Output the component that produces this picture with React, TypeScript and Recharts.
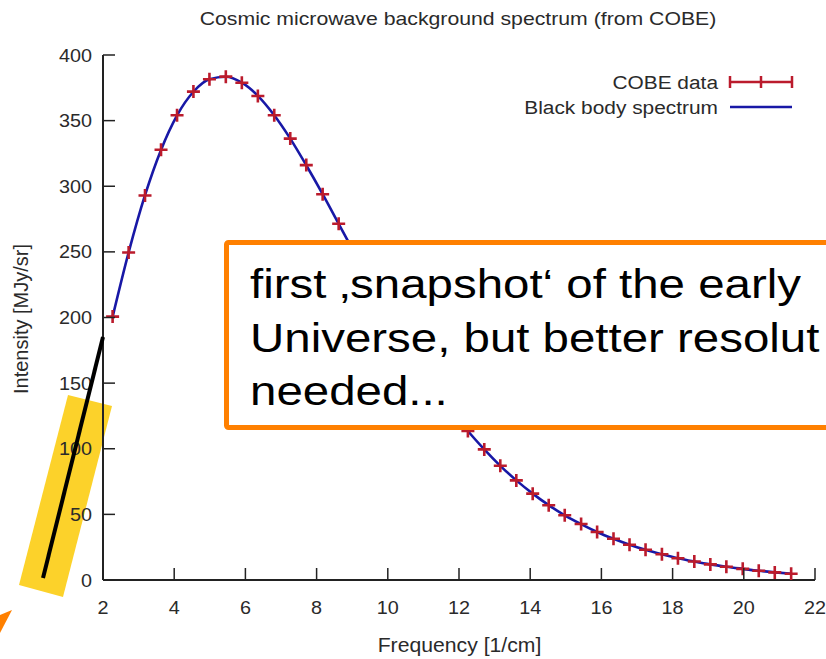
import React from 'react';
import { ComposedChart, XAxis, YAxis, Scatter, Line, Legend } from 'recharts';

const frequency = [2.27, 2.72, 3.18, 3.63, 4.08, 4.54, 4.99, 5.45, 5.9, 6.35, 6.81, 7.26, 7.71, 8.17, 8.62, 9.08, 9.53, 9.98, 10.44, 10.89, 11.34, 11.8, 12.25, 12.71, 13.16, 13.61, 14.07, 14.52, 14.97, 15.43, 15.88, 16.34, 16.79, 17.24, 17.7, 18.15, 18.61, 19.06, 19.51, 19.97, 20.42, 20.87, 21.33];
const cobeIntensity = [200.7, 249.5, 293.0, 327.8, 354.1, 372.1, 381.5, 383.5, 378.9, 368.8, 354.1, 336.3, 316.1, 293.9, 271.4, 248.2, 225.9, 204.3, 183.3, 163.8, 145.8, 128.8, 113.6, 99.5, 87.0, 75.9, 65.8, 57.0, 49.3, 42.7, 36.6, 31.4, 26.9, 23.0, 19.6, 16.6, 14.1, 11.9, 10.1, 8.5, 7.0, 5.8, 4.8];
const blackBodyIntensity = [200.5, 249.6, 293.2, 327.7, 354.0, 372.0, 381.5, 383.4, 378.9, 368.9, 354.1, 336.3, 316.0, 294.0, 271.4, 248.3, 225.9, 204.3, 183.3, 163.8, 145.7, 128.9, 113.5, 99.5, 87.0, 75.9, 65.8, 57.0, 49.3, 42.6, 36.6, 31.4, 26.9, 23.0, 19.6, 16.6, 14.1, 11.9, 10.1, 8.5, 7.0, 5.8, 4.8];
const xTicks = [2, 4, 6, 8, 10, 12, 14, 16, 18, 20, 22];
const yTicks = [0, 50, 100, 150, 200, 250, 300, 350, 400];
const chartTitle = 'Cosmic microwave background spectrum (from COBE)';
const xAxisTitle = 'Frequency [1/cm]';
const yAxisTitle = 'Intensity [MJy/sr]';
const seriesNames = ['COBE data', 'Black body spectrum'];
const noteLines = ['first \u201Asnapshot\u2018 of the early', 'Universe, but better resolut', 'needed...'];

const data = frequency.map((f, i) => ({ f, cobe: cobeIntensity[i], bb: blackBodyIntensity[i] }));

const FONT = "'Liberation Sans', Arial, sans-serif";
const AXIS = '#222';
const TXT = '#2a2a2a';
const RED = '#bb1b2c';
const BLUE = '#1818a6';
const TICK = 12;

const SText = (p: any) => (
  <g transform={`translate(${p.x},${p.y}) scale(${p.sx ?? 1},1)`}>
    <text x={0} y={0} textAnchor={p.anchor ?? 'start'} fontFamily={FONT} fontSize={p.size} fill={p.fill ?? TXT}>{p.children}</text>
  </g>
);

const BottomTick = (p: any) => (
  <g>
    <line x1={p.x} y1={p.y} x2={p.x} y2={p.y - TICK} stroke={AXIS} strokeWidth={1.5} />
    <SText x={p.x} y={p.y + 34} anchor="middle" size={18} sx={1.1}>{p.payload.value}</SText>
  </g>
);
const LeftTick = (p: any) => (
  <g>
    <line x1={p.x} y1={p.y} x2={p.x + TICK} y2={p.y} stroke={AXIS} strokeWidth={1.5} />
    <SText x={p.x - 11} y={p.y + 6.5} anchor="end" size={18} sx={1.1}>{p.payload.value}</SText>
  </g>
);
const TopTick = (p: any) => (
  <line x1={p.x} y1={p.y} x2={p.x} y2={p.y + TICK} stroke={AXIS} strokeWidth={1.5} />
);
const RightTick = (p: any) => (
  <line x1={p.x} y1={p.y} x2={p.x - TICK} y2={p.y} stroke={AXIS} strokeWidth={1.5} />
);

const Cross = (p: any) => {
  const { cx, cy } = p;
  if (cx == null || cy == null) return <g />;
  const s = 6.5;
  return (
    <path d={`M${cx - s},${cy}H${cx + s}M${cx},${cy - s}V${cy + s}`} stroke={RED} strokeWidth={2.6} fill="none" />
  );
};

const LegendBox = () => (
  <svg width={320} height={60} style={{ display: 'block' }}>
    <SText x={218} y={28.5} anchor="end" size={18} sx={1.16}>{seriesNames[0]}</SText>
    <line x1={230} y1={22} x2={292} y2={22} stroke={RED} strokeWidth={2.5} />
    <line x1={230} y1={16} x2={230} y2={28} stroke={RED} strokeWidth={2.5} />
    <line x1={261} y1={16} x2={261} y2={28} stroke={RED} strokeWidth={2.5} />
    <line x1={292} y1={16} x2={292} y2={28} stroke={RED} strokeWidth={2.5} />
    <SText x={218} y={53.5} anchor="end" size={18} sx={1.16}>{seriesNames[1]}</SText>
    <line x1={230} y1={47} x2={292} y2={47} stroke={BLUE} strokeWidth={2.5} />
  </svg>
);

export default function App() {
  return (
    <div style={{ position: 'absolute', left: 0, top: 0, width: 826, height: 659, overflow: 'hidden', background: '#fff' }}>
      <svg width={826} height={659} style={{ position: 'absolute', left: 0, top: 0 }}>
        <polygon points="68,395 112,406 63,597 19,585" fill="#fcd22a" />
      </svg>
      <div style={{ position: 'absolute', left: 0, top: 0 }}>
        <ComposedChart width={826} height={659} data={data} margin={{ top: 55, right: 11, bottom: 0, left: 0 }}>
          <XAxis dataKey="f" type="number" domain={[2, 22]} ticks={xTicks} interval={0} height={79}
            axisLine={{ stroke: AXIS, strokeWidth: 2 }} tickLine={false} tickSize={0} tickMargin={0} tick={BottomTick} allowDataOverflow />
          <XAxis xAxisId="top" orientation="top" dataKey="f" type="number" domain={[2, 22]} ticks={xTicks} interval={0} height={0}
            axisLine={{ stroke: AXIS, strokeWidth: 2 }} tickLine={false} tickSize={0} tickMargin={0} tick={TopTick} allowDataOverflow />
          <YAxis type="number" domain={[0, 400]} ticks={yTicks} interval={0} width={103}
            axisLine={{ stroke: AXIS, strokeWidth: 2 }} tickLine={false} tickSize={0} tickMargin={0} tick={LeftTick} allowDataOverflow />
          <YAxis yAxisId="right" orientation="right" type="number" domain={[0, 400]} ticks={yTicks} interval={0} width={0}
            axisLine={{ stroke: AXIS, strokeWidth: 2 }} tickLine={false} tickSize={0} tickMargin={0} tick={RightTick} allowDataOverflow />
          <Legend layout="horizontal" verticalAlign="middle" align="center" content={LegendBox}
            wrapperStyle={{ left: 500, top: 60, width: 320, height: 60 }} />
          <Scatter name={seriesNames[0]} dataKey="cobe" shape={Cross} isAnimationActive={false} />
          <Line name={seriesNames[1]} dataKey="bb" type="monotone" stroke={BLUE} strokeWidth={2.6} dot={false} activeDot={false} isAnimationActive={false} />
        </ComposedChart>
      </div>
      <svg width={826} height={659} style={{ position: 'absolute', left: 0, top: 0 }}>
        <SText x={458} y={25} anchor="middle" size={18} sx={1.18}>{chartTitle}</SText>
        <SText x={459.5} y={652} anchor="middle" size={20} sx={1.06}>{xAxisTitle}</SText>
        <text transform="rotate(-90)" x={-319} y={28} textAnchor="middle" fontFamily={FONT} fontSize={20} fill={TXT}>{yAxisTitle}</text>
        <line x1={43} y1={578} x2={103} y2={337} stroke="#000" strokeWidth={4} />
        <polygon points="12,610 0,615 0,633" fill="#ff8000" />
        <rect x={226.5} y={242.5} width={640} height={185} rx={2} fill="#fff" stroke="#ff8000" strokeWidth={5} />
        {noteLines.map((t, i) => (
          <SText key={i} x={250} y={298 + i * 53.5} size={41} sx={1.157} fill="#000">{t}</SText>
        ))}
      </svg>
    </div>
  );
}
